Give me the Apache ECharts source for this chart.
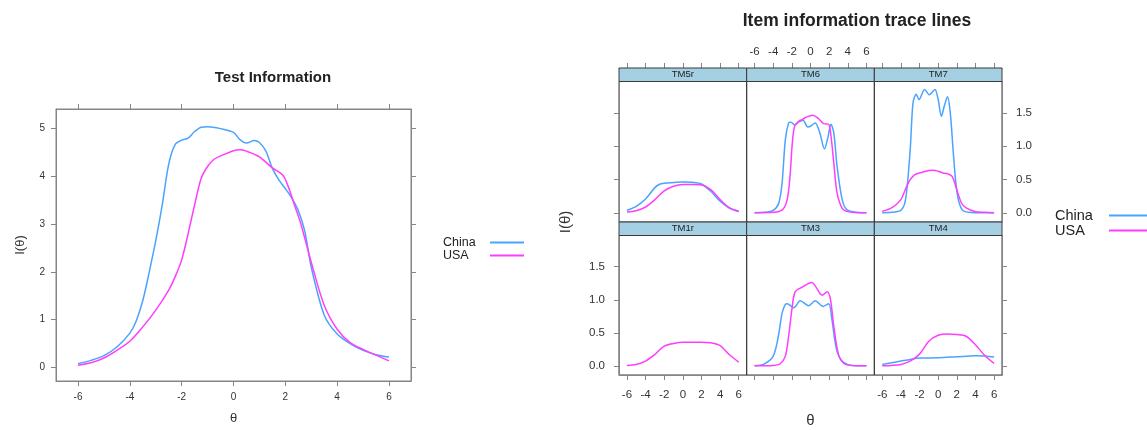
<!DOCTYPE html>
<html>
<head>
<meta charset="utf-8">
<script src="https://cdn.jsdelivr.net/npm/echarts@6/dist/echarts.min.js"></script>
<style>
    html, body { margin: 0; padding: 0; background: #fff; }
    #main { width: 1147px; height: 430px; }
</style>
</head>
<body>
<div id="main"></div>
<script>
// theta grid labels / ticks
const thetaTicks = [-6, -4, -2, 0, 2, 4, 6];
const testTicks = [0, 1, 2, 3, 4, 5];
const itemTicks = [0, 0.5, 1, 1.5];
const groups = ['China', 'USA'];
const panelNames = ['TM5r', 'TM6', 'TM7', 'TM1r', 'TM3', 'TM4'];

// test information [theta, I]
const testChina = [[-6, 0.08], [-5.5, 0.15], [-5, 0.25], [-4.5, 0.43], [-4, 0.72], [-3.75, 0.98], [-3.5, 1.4], [-3.25, 2.0], [-3, 2.65], [-2.75, 3.4], [-2.5, 4.25], [-2.25, 4.66], [-2, 4.75], [-1.75, 4.79], [-1.5, 4.93], [-1.25, 5.02], [-1, 5.03], [-0.5, 4.99], [0, 4.91], [0.25, 4.76], [0.5, 4.69], [0.8, 4.74], [1, 4.7], [1.25, 4.52], [1.5, 4.16], [1.75, 3.92], [2, 3.74], [2.25, 3.54], [2.5, 3.28], [2.75, 2.85], [3, 2.1], [3.5, 1.1], [4, 0.7], [4.5, 0.5], [5, 0.36], [5.5, 0.27], [6, 0.22]];
const testUsa = [[-6, 0.05], [-5.5, 0.1], [-5, 0.2], [-4.5, 0.36], [-4, 0.55], [-3.5, 0.85], [-3, 1.2], [-2.5, 1.62], [-2.25, 1.9], [-2, 2.25], [-1.75, 2.8], [-1.5, 3.4], [-1.25, 3.95], [-1, 4.2], [-0.75, 4.35], [-0.5, 4.42], [0, 4.53], [0.25, 4.55], [0.5, 4.52], [1, 4.4], [1.5, 4.17], [1.9, 4.02], [2.1, 3.8], [2.35, 3.4], [2.6, 3.0], [3, 2.2], [3.5, 1.3], [4, 0.8], [4.5, 0.52], [5, 0.38], [5.5, 0.26], [6, 0.14]];

// item information [theta, I]
const tm5rChina = [[-6, 0.04], [-5, 0.1], [-4, 0.21], [-3, 0.38], [-2.5, 0.43], [-2, 0.445], [-1, 0.455], [0, 0.465], [1, 0.46], [2, 0.435], [3, 0.325], [4, 0.175], [5, 0.075], [6, 0.025]];
const tm5rUsa = [[-6, 0.015], [-5, 0.035], [-4, 0.09], [-3, 0.2], [-2, 0.33], [-1, 0.4], [0, 0.425], [1, 0.425], [2, 0.42], [3, 0.35], [4, 0.2], [5, 0.075], [6, 0.02]];
const tm6China = [[-6, 0.005], [-5, 0.01], [-4, 0.04], [-3.4, 0.15], [-3.05, 0.45], [-2.7, 1.1], [-2.35, 1.35], [-2.1, 1.36], [-1.7, 1.32], [-1.3, 1.36], [-0.8, 1.39], [-0.3, 1.29], [0, 1.3], [0.5, 1.35], [1, 1.2], [1.5, 0.96], [1.85, 1.12], [2.2, 1.33], [2.5, 1.2], [2.85, 0.7], [3.4, 0.2], [3.9, 0.05], [5, 0.01], [6, 0.005]];
const tm6Usa = [[-6, 0.005], [-4, 0.01], [-3, 0.05], [-2.5, 0.2], [-2.2, 0.55], [-1.95, 1.05], [-1.7, 1.3], [-1.2, 1.38], [-0.9, 1.4], [-0.4, 1.44], [0.25, 1.465], [0.8, 1.42], [1.4, 1.34], [1.95, 1.33], [2.2, 1.15], [2.5, 0.75], [2.85, 0.3], [3.4, 0.07], [4, 0.02], [5, 0.005], [6, 0.005]];
const tm7China = [[-6, 0.005], [-5, 0.01], [-4, 0.04], [-3.5, 0.2], [-3, 0.95], [-2.7, 1.65], [-2.35, 1.78], [-2.05, 1.7], [-1.45, 1.85], [-0.95, 1.77], [-0.35, 1.85], [0, 1.7], [0.35, 1.45], [0.65, 1.6], [1, 1.74], [1.3, 1.5], [1.6, 0.95], [1.9, 0.45], [2.2, 0.18], [2.7, 0.03], [4, 0.005], [6, 0.005]];
const tm7Usa = [[-6, 0.025], [-5, 0.075], [-4, 0.2], [-3.5, 0.36], [-3, 0.5], [-2.5, 0.575], [-2, 0.6], [-1, 0.635], [-0.5, 0.64], [0, 0.625], [0.5, 0.6], [1, 0.59], [1.5, 0.55], [2, 0.35], [2.5, 0.15], [3, 0.075], [4, 0.02], [5, 0.01], [6, 0.005]];
const tm1rUsa = [[-6, 0.01], [-5, 0.025], [-4, 0.075], [-3, 0.175], [-2, 0.3], [-1, 0.34], [0, 0.36], [1, 0.36], [2, 0.36], [3, 0.35], [4, 0.31], [5, 0.17], [6, 0.06]];
const tm3China = [[-6, 0.005], [-5, 0.03], [-4, 0.15], [-3.45, 0.45], [-3.05, 0.8], [-2.7, 0.93], [-2.5, 0.94], [-1.8, 0.88], [-1.1, 0.985], [-0.2, 0.91], [0.5, 0.985], [1.35, 0.9], [1.95, 0.94], [2.3, 0.7], [2.6, 0.4], [2.9, 0.2], [3.5, 0.06], [4.5, 0.01], [6, 0.005]];
const tm3Usa = [[-6, 0.005], [-4, 0.01], [-3.25, 0.035], [-2.7, 0.15], [-2.35, 0.45], [-2, 0.85], [-1.65, 1.12], [-0.9, 1.19], [0.15, 1.26], [0.5, 1.21], [1.25, 1.07], [1.8, 1.12], [2.15, 1.0], [2.5, 0.6], [3.05, 0.15], [3.75, 0.025], [5, 0.005], [6, 0.005]];
const tm4China = [[-6, 0.025], [-5, 0.05], [-4, 0.075], [-3, 0.1], [-2, 0.12], [0, 0.125], [2, 0.14], [4, 0.155], [5, 0.15], [6, 0.135]];
const tm4Usa = [[-6, 0.005], [-5, 0.01], [-4, 0.025], [-3, 0.075], [-2, 0.18], [-1, 0.375], [0, 0.465], [1, 0.485], [2, 0.475], [3, 0.45], [4, 0.32], [5, 0.16], [6, 0.04]];

const itemData = [
    [tm5rChina, tm5rUsa],
    [tm6China, tm6Usa],
    [tm7China, tm7Usa],
    [null, tm1rUsa],
    [tm3China, tm3Usa],
    [tm4China, tm4Usa]
];

const colorList = ['#4aa3ff', '#ff3dff'];
const axisColor = '#858585';
const font = 'Liberation Sans, Arial, sans-serif';

var grids = [];
var xAxes = [];
var yAxes = [];
var seriesList = [];
var graphics = [];

// one axis with ticks (and maybe labels) on a side of a grid
function xAx(grid, pos, ticks, labels, opt) {
    return Object.assign({
        type: 'value',
        gridIndex: grid,
        position: pos,
        min: -6.85,
        max: 6.85,
        splitLine: { show: false },
        axisLine: { show: ticks, onZero: false, lineStyle: { color: axisColor } },
        axisTick: { show: ticks, length: 5, customValues: thetaTicks, lineStyle: { color: axisColor } },
        axisLabel: { show: labels, customValues: thetaTicks, color: '#333', fontFamily: font, fontSize: 10, margin: 11 }
    }, opt || {});
}
function yAx(grid, pos, ticks, labels, min, max, vals, opt) {
    return Object.assign({
        type: 'value',
        gridIndex: grid,
        position: pos,
        min: min,
        max: max,
        splitLine: { show: false },
        axisLine: { show: ticks, onZero: false, lineStyle: { color: axisColor } },
        axisTick: { show: ticks, length: 5, customValues: vals, lineStyle: { color: axisColor } },
        axisLabel: { show: labels, customValues: vals, color: '#333', fontFamily: font, fontSize: 10, margin: 11 }
    }, opt || {});
}

// ---- left: test information ----
grids.push({ left: 56, top: 109, width: 355, height: 275, show: true, borderColor: axisColor, borderWidth: 1 });
xAxes.push(xAx(0, 'bottom', true, true, {
    name: 'θ', nameLocation: 'middle', nameGap: 31,
    nameTextStyle: { color: '#333', fontFamily: font, fontSize: 13 }
}));
xAxes.push(xAx(0, 'top', true, false));
yAxes.push(yAx(0, 'left', true, true, -0.28, 5.4, testTicks, {
    name: 'I(θ)', nameLocation: 'middle', nameGap: 29,
    nameTextStyle: { color: '#333', fontFamily: font, fontSize: 13 }
}));
yAxes.push(yAx(0, 'right', true, false, -0.28, 5.4, testTicks));
[testChina, testUsa].forEach((d, i) => {
    seriesList.push({
        name: groups[i], type: 'line', data: d, xAxisIndex: 0, yAxisIndex: 0,
        smooth: 0.3, showSymbol: false,
        lineStyle: { color: colorList[i], width: 1.5 }, itemStyle: { color: colorList[i] }
    });
});

// ---- right: item trace lines, 2 x 3 panels ----
const colLeft = [619, 746.67, 874.33];
const colW = 127.67;
const stripH = 13.5;
const rowTop = [68 + stripH, 222 + stripH];
const rowH = [222 - 68 - stripH, 375 - 222 - stripH];
const yMin = -0.135, yMax = 1.97;
const lbl = { fontSize: 11.5, margin: 14 };

panelNames.forEach((name, p) => {
    let row = Math.floor(p / 3), col = p % 3;
    let g = grids.length;
    grids.push({ left: colLeft[col], top: rowTop[row], width: colW, height: rowH[row], show: true, borderColor: '#3a3a3a', borderWidth: 1 });

    // bottom axis (bottom row only)
    let bx = xAx(g, 'bottom', row == 1, row == 1 && col != 1);
    bx.axisLabel = Object.assign(bx.axisLabel, lbl);
    if (row == 1 && col == 1) {
        bx.name = 'θ';
        bx.nameLocation = 'middle';
        bx.nameGap = 38;
        bx.nameTextStyle = { color: '#333', fontFamily: font, fontSize: 15 };
    }
    xAxes.push(bx);
    // top axis (top row only), sits above the strip
    let tx = xAx(g, 'top', row == 0, row == 0 && col == 1, { offset: stripH });
    tx.axisLabel = Object.assign(tx.axisLabel, { fontSize: 11.5, margin: 10 });
    xAxes.push(tx);

    let ly = yAx(g, 'left', col == 0, col == 0 && row == 1, yMin, yMax, itemTicks);
    ly.axisLabel = Object.assign(ly.axisLabel, lbl, { formatter: v => v.toFixed(1) });
    yAxes.push(ly);
    let ry = yAx(g, 'right', col == 2, col == 2 && row == 0, yMin, yMax, itemTicks);
    ry.axisLabel = Object.assign(ry.axisLabel, lbl, { formatter: v => v.toFixed(1) });
    yAxes.push(ry);

    itemData[p].forEach((d, i) => {
        if (!d) return;
        seriesList.push({
            name: groups[i], type: 'line', data: d, xAxisIndex: g * 2, yAxisIndex: g * 2,
            smooth: 0.3, showSymbol: false,
            lineStyle: { color: colorList[i], width: 1.5 }, itemStyle: { color: colorList[i] }
        });
    });

    // strip
    graphics.push({
        type: 'rect',
        shape: { x: colLeft[col], y: rowTop[row] - stripH, width: colW, height: stripH },
        style: { fill: '#a5cfe3', stroke: '#3a3a3a', lineWidth: 1 },
        z: 10
    });
    graphics.push({
        type: 'text',
        x: colLeft[col] + colW / 2,
        y: rowTop[row] - stripH / 2,
        style: { text: name, align: 'center', verticalAlign: 'middle', fill: '#222', font: '9.5px ' + font },
        z: 11
    });
});

graphics.push({
    type: 'text',
    x: 566,
    y: 222,
    rotation: Math.PI / 2,
    style: { text: 'I(θ)', align: 'center', verticalAlign: 'middle', fill: '#333', font: '15px ' + font }
});

var option = {
    animation: false,
    backgroundColor: '#fff',
    title: [
        {
            text: 'Test Information', left: 268, top: 65, textAlign: 'center',
            textStyle: { color: '#222', fontFamily: font, fontSize: 15, fontWeight: 'bold' }
        },
        {
            text: 'Item information trace lines', left: 852, top: 7, textAlign: 'center',
            textStyle: { color: '#222', fontFamily: font, fontSize: 17.5, fontWeight: 'bold' }
        }
    ],
    legend: [
        {
            data: groups, orient: 'vertical', align: 'right', left: 438, top: 231,
            itemGap: 0, itemWidth: 34, itemHeight: 2, icon: 'rect',
            formatter: '{a|{name}}',
            textStyle: {
                color: '#222', fontFamily: font, fontSize: 12.5, lineHeight: 12,
                rich: { a: { width: 42, align: 'left', fontFamily: font, fontSize: 12.5, lineHeight: 12, color: '#222' } }
            }
        },
        {
            data: groups, orient: 'vertical', align: 'right', left: 1050, top: 203,
            itemGap: 0, itemWidth: 45, itemHeight: 2, icon: 'rect',
            formatter: '{a|{name}}',
            textStyle: {
                color: '#222', fontFamily: font, fontSize: 14.5, lineHeight: 15,
                rich: { a: { width: 49, align: 'left', fontFamily: font, fontSize: 14.5, lineHeight: 15, color: '#222' } }
            }
        }
    ],
    grid: grids,
    xAxis: xAxes,
    yAxis: yAxes,
    graphic: graphics,
    series: seriesList
};

var myChart = echarts.init(document.getElementById('main'));
myChart.setOption(option);
</script>
</body>
</html>
